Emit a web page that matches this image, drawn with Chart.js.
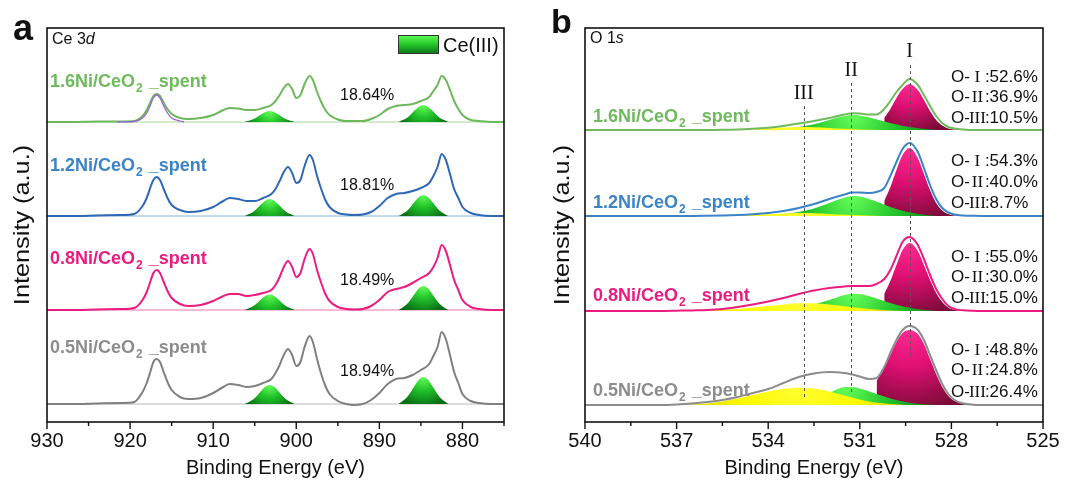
<!DOCTYPE html>
<html>
<head>
<meta charset="utf-8">
<script src="https://cdn.jsdelivr.net/npm/chart.js@4.4.1/dist/chart.umd.min.js"></script>
<style>
  html, body { margin: 0; padding: 0; background: #fff; }
  #wrap { position: relative; width: 1080px; height: 486px; overflow: hidden; }
  canvas { position: absolute; top: 0; }
  #ce { left: 0; }
  #o { left: 540px; }
</style>
</head>
<body>
<div id="wrap">
  <canvas id="ce" width="540" height="486" style="width:540px;height:486px"></canvas>
  <canvas id="o" width="540" height="486" style="width:540px;height:486px"></canvas>
</div>
<script>
// ---------- samples ----------
const samples = ['1.6', '1.2', '0.8', '0.5'];
const sampleColor = ['#6fba5c', '#3b84c7', '#ec1b80', '#8c8c8c'];
const ceLineColor = ['#6cb85a', '#2f68b4', '#ec1b80', '#808080'];

// ---------- Ce 3d spectra (binding energy, eV, and intensity above each trace's baseline) ----------
const ceEnergy = [930, 927, 924, 921, 919.5, 918.5, 918, 917.5, 917.2, 916.8, 916.4, 916, 915.5, 915, 914, 913, 911.5, 910, 909, 908, 907, 906, 905, 904, 903, 902.5, 902, 901.5, 901, 900.5, 900, 899.5, 899, 898.4, 898, 897.5, 897, 896.5, 896, 895, 894, 893, 892, 891, 890, 889, 888, 887, 886, 885, 884, 883.5, 883, 882.5, 882, 881.5, 881, 880.5, 880, 879, 878, 876.5, 875];
const ce16 = [0,0,0.5,0.5,1, 6,12,21,26,28, 26,20,13,8,4, 3,4,7,11,14, 13.5,12,12,14,17, 21,27,34,38,33, 24,27,38,46,42, 30,20,12,7,2.5, 1,1,1,3,7, 13,16,17,18,21, 25,31,37,46,42, 32,21,13,7,2, 1,0,0];
const ce12 = [0,0,0.5,1,2, 10,18,30,36,39, 36,28,18,11,6, 4,5,9,14,18, 17,15,15,18,22, 27,35,44,49,43, 33,36,50,61,56, 40,27,16,9,3, 1.5,1,1.5,4,10, 18,22,23,25,28, 33,40,49,62,56, 42,27,18,9,3, 1,0,0];
const ce08 = [0,0,0.5,1,2, 10,18,30,37,40, 37,29,19,12,6, 4,5,9,13,16, 16,14,15,17,20, 25,33,43,49,43, 33,37,51,61,56, 40,27,16,9,3, 1,0.5,1,4,10, 18,21,23,27,32, 37,43,52,65,59, 45,30,20,10,3, 1,0,0];
const ce05 = [0,0,0.5,1,2, 12,21,34,42,45, 42,33,22,14,7, 5,6,11,16,20, 19,17,18,21,25, 31,39,49,55,49, 38,42,57,68,62, 45,30,18,10,3, 0,-1,0,4,11, 20,25,26,29,34, 40,48,57,72,65, 49,32,21,10,3, 1,0,0];

// Ce(III) components (u' near 903 eV, v' near 885 eV)
const ceIIIuEnergy = [906.2, 905.7, 905.2, 904.7, 904.2, 903.7, 903.2, 902.7, 902.2, 901.7, 901.2, 900.7, 900.2];
const ceIIIvEnergy = [887.7, 887.2, 886.7, 886.2, 885.7, 885.2, 884.7, 884.2, 883.7, 883.2, 882.7, 882.2, 881.7];
const ceIIIu16 = [0,1.2,2.7,5,7.7,10,11,10,7.7,5,2.7,1.2,0];
const ceIIIv16 = [0,1.9,4.1,7.7,11.9,15.6,17,15.6,11.9,7.7,4.1,1.9,0];
const ceIIIu12 = [0,1.9,4.1,7.7,11.9,15.6,17,15.6,11.9,7.7,4.1,1.9,0];
const ceIIIv12 = [0,2.3,5,9.5,14.7,19.2,21,19.2,14.7,9.5,5,2.3,0];
const ceIIIu08 = [0,1.7,3.7,7,10.9,14.2,15.5,14.2,10.9,7,3.7,1.7,0];
const ceIIIv08 = [0,2.6,5.8,10.8,16.8,22,24,22,16.8,10.8,5.8,2.6,0];
const ceIIIu05 = [0,2.1,4.6,8.6,13.3,17.4,19,17.4,13.3,8.6,4.6,2.1,0];
const ceIIIv05 = [0,3,6.5,12.2,18.9,24.7,27,24.7,18.9,12.2,6.5,3,0];

// u''' component of the 1.6Ni trace
const uTripleEnergy = [921.5, 919.5, 918.5, 918, 917.5, 917.2, 916.8, 916.4, 916, 915.5, 915, 914, 913.5];
const uTriple16 = [0,0.5,4,9,18,24,27,24,17,9,4,1,0];

const ceBaseEnergy = [930, 875];
const ceBaseValue = [0, 0];
const ceOffset = [300, 206, 112, 18];
const ce3Share = [18.64, 18.81, 18.49, 18.94];

const ceMajorTicks = [930, 920, 910, 900, 890, 880];
const ceMinorTicks = [925, 915, 905, 895, 885, 875];

// ---------- O 1s spectra ----------
const oEnergy = [540, 537.5, 537, 536.5, 536, 535.5, 535, 534.5, 534, 533.5, 533, 532.5, 532, 531.5, 531.25, 531, 530.7, 530.45, 530.2, 530, 529.8, 529.6, 529.37, 529.1, 528.9, 528.7, 528.5, 528.3, 528.1, 527.9, 527.6, 527.3, 527, 525];
const o16 = [0,0,0,0,0, 0.2,0.6,1.3,2.2,4, 6.5,9,12,15.5,16.7, 16.5,15.5,15.5,21,29, 38,45,51,45,35, 24,14,7,3,1.5, 0.5,0,0,0];
const o12 = [0,0,0,0,0.2, 0.5,1,1.8,3,5, 8,12,17,21.5,23.5, 23.5,23,24,28,40, 54,67,73,64,48, 31,17,8,3.5,1.5, 0.5,0.2,0,0];
const o08 = [0,0,0.3,0.6,1, 2,4,6.5,9.5,13, 17,20.5,23,24.5,25, 25,25,27,32,41, 55,69,74,66,52, 36,22,12,5,2, 0.7,0.2,0,0];
const o05 = [0,0,0.5,1.5,3, 5,8,12,16,22, 28,31.5,33,32,30.5, 28.5,26,27,38,52, 65,75,79,75,65, 50,35,21,11,5, 1.5,0.3,0,0];

// O-I (lattice oxygen)
const oIEnergy = [530.45, 530.2, 530.0, 529.8, 529.6, 529.37, 529.1, 528.9, 528.7, 528.5, 528.3, 528.1, 527.9, 527.6, 527.3];
const oI16 = [null,12,21,32,41,46,40,30,19,10,4.5,1.5,0.5,0,0];
const oI12 = [null,15,29,46,61,68,58,42,26,13,5.6,2,0.6,0,0];
const oI08 = [null,17,30,46,61,68,60,46,31,18,9,3.5,1,0,0];
const oI05 = [24,37,50,63,72,75,71,61,46,31,18,9,4,1,0];
// O-II
const oIIEnergy = [534.5, 534, 533.5, 533, 532.5, 532, 531.5, 531.25, 531, 530.5, 530, 529.5, 529, 528.5];
const oII16 = [0,0.5,1.3,3,5.8,10,14,15,14.5,11,7,3.5,1.5,0];
const oII12 = [0,0.7,1.8,4,7.5,13,18.5,20,19.5,15,9,4.5,1.8,0];
const oII08 = [0,0.6,1.5,3.5,6.5,11,16,17.3,17,13,8,4,1.5,0];
const oII05 = [0,0.5,1.5,3.5,7,12,18,18,16.5,11.5,6.5,3,1,0];
// O-III
const oIIIEnergy = [537, 536.5, 536, 535.5, 535, 534.5, 534, 533.5, 533, 532.5, 532, 531.5, 531, 530.5, 530, 529.5];
const oIII16 = [0,0,0,0.1,0.3,0.8,1.6,2.5,3,2.8,2,1.2,0.6,0.2,0,0];
const oIII12 = [0,0,0,0.1,0.3,0.9,1.7,2.5,3,2.8,2.1,1.3,0.7,0.3,0,0];
const oIII08 = [0,0.2,0.5,1.1,2,3.4,5,6.6,7.8,7.7,6.5,4.8,3,1.5,0.6,0];
const oIII05 = [0,0.5,1.5,3.5,6.5,10,13.5,16,17.3,16.5,13.5,9.5,5.5,2.5,1,0];

const oOffset = [292, 206, 111, 17];
const oShare16 = [52.6, 36.9, 10.5];
const oShare12 = [54.3, 40.0, 8.7];
const oShare08 = [55.0, 30.0, 15.0];
const oShare05 = [48.8, 24.8, 26.4];
const oSpecies = ['I', 'II', 'III'];
const oSpeciesEnergy = [529.37, 531.28, 532.84];

const oMajorTicks = [540, 537, 534, 531, 528, 525];
const oMinorTicks = [538.5, 535.5, 532.5, 529.5, 526.5];

// ---------- helpers ----------
const SANS = '"Liberation Sans", Arial, Helvetica, sans-serif';
const SERIF = '"Liberation Serif", "Times New Roman", serif';

function pts(energy, values, offset) {
  return energy.map((e, i) => ({ x: e, y: values[i] == null ? null : offset + values[i] }));
}

function lineSet(energy, values, offset, color, width, order) {
  return {
    data: pts(energy, values, offset),
    borderColor: color, borderWidth: width,
    pointRadius: 0, fill: false,
    cubicInterpolationMode: 'monotone',
    order: order
  };
}

// radial shading from the apex of a filled component
function peakShade(inner, mid, outer) {
  return (ctx) => {
    const chart = ctx.chart;
    if (!chart.chartArea) return mid;
    const ds = chart.data.datasets[ctx.datasetIndex];
    const xs = chart.scales.x, ys = chart.scales.y;
    let top = null, minX = Infinity, maxX = -Infinity;
    ds.data.forEach(p => {
      if (p.y == null) return;
      if (!top || p.y > top.y) top = p;
      const px = xs.getPixelForValue(p.x);
      minX = Math.min(minX, px); maxX = Math.max(maxX, px);
    });
    const cx = xs.getPixelForValue(top.x), cy = ys.getPixelForValue(top.y);
    const by = ys.getPixelForValue(ds.fill.value);
    const r = Math.max(by - cy, (maxX - minX) / 2, 4) * 1.1;
    const g = chart.ctx.createRadialGradient(cx, cy, 0, cx, cy, r);
    g.addColorStop(0, inner); g.addColorStop(0.45, mid); g.addColorStop(1, outer);
    return g;
  };
}

function fillSet(energy, values, offset, shade, order) {
  return {
    data: pts(energy, values, offset),
    borderColor: 'rgba(0,0,0,0)', borderWidth: 0,
    backgroundColor: shade,
    pointRadius: 0,
    fill: { value: offset },
    cubicInterpolationMode: 'monotone',
    order: order
  };
}

const greenShade = () => peakShade('#66ff5a', '#22c42a', '#0a6e16');
const pinkShade = () => peakShade('#ff2b92', '#e00f72', '#7a0b38');
const yellowShade = () => peakShade('#ffff30', '#fbf800', '#d6cf00');

function seg(c, x1, y1, x2, y2) { c.beginPath(); c.moveTo(x1, y1); c.lineTo(x2, y2); c.stroke(); }

function drawSampleLabel(c, name, x, y, color) {
  c.fillStyle = color; c.textAlign = 'left'; c.textBaseline = 'alphabetic';
  c.font = 'bold 18px ' + SANS;
  const head = name + 'Ni/CeO';
  c.fillText(head, x, y);
  const w1 = c.measureText(head).width;
  c.font = 'bold 12px ' + SANS;
  c.fillText('2', x + w1 + 1, y + 5);
  const w2 = c.measureText('2').width;
  c.font = 'bold 18px ' + SANS;
  c.fillText(' _spent', x + w1 + w2 + 2, y);
}

function frame(opts) {
  return {
    id: 'frame',
    afterDraw(chart) {
      const c = chart.ctx, a = chart.chartArea, xs = chart.scales.x, ys = chart.scales.y;
      c.save();
      c.strokeStyle = '#111'; c.lineWidth = 1.6;
      c.strokeRect(a.left, a.top, a.right - a.left, a.bottom - a.top);
      c.lineWidth = 1.4;
      opts.major.forEach(v => { const x = xs.getPixelForValue(v); seg(c, x, a.bottom, x, a.bottom + 7); });
      opts.minor.forEach(v => { const x = xs.getPixelForValue(v); seg(c, x, a.bottom, x, a.bottom + 4); });
      c.fillStyle = '#111'; c.textAlign = 'center'; c.textBaseline = 'middle';
      c.font = '20px ' + SANS;
      opts.major.forEach(v => c.fillText(String(v), xs.getPixelForValue(v), 441));
      c.fillText('Binding Energy (eV)', (a.left + a.right) / 2, 468);
      c.save();
      c.translate(22.5, (a.top + a.bottom) / 2);
      c.rotate(-Math.PI / 2);
      c.scale(1.15, 1);
      c.font = '22px ' + SANS;
      c.fillText('Intensity (a.u.)', 0, 0);
      c.restore();
      c.textAlign = 'left'; c.textBaseline = 'alphabetic';
      c.font = 'bold ' + opts.letterSize + 'px ' + SANS;
      c.fillText(opts.letter, opts.letterX, opts.letterY);
      opts.extra(chart, c, xs, ys, a);
      c.restore();
    }
  };
}

const baseOptions = (padding, xmin, xmax) => ({
  responsive: false, animation: false, events: [],
  layout: { padding: padding },
  plugins: { legend: { display: false }, tooltip: { enabled: false } },
  scales: {
    x: { type: 'linear', reverse: true, min: xmin, max: xmax, display: false },
    y: { type: 'linear', min: 0, max: 394, display: false }
  }
});

// ---------- Ce 3d panel ----------
const ceTraces = [ce16, ce12, ce08, ce05];
const ceU = [ceIIIu16, ceIIIu12, ceIIIu08, ceIIIu05];
const ceV = [ceIIIv16, ceIIIv12, ceIIIv08, ceIIIv05];
const ceSets = [];
samples.forEach((s, i) => {
  const off = ceOffset[i];
  ceSets.push(lineSet(ceBaseEnergy, ceBaseValue, off, sampleColor[i] + '99', 1, 3));
  ceSets.push(fillSet(ceIIIuEnergy, ceU[i], off, greenShade(), 1));
  ceSets.push(fillSet(ceIIIvEnergy, ceV[i], off, greenShade(), 1));
  ceSets.push(lineSet(ceEnergy, ceTraces[i], off, ceLineColor[i], 2, 0));
});
ceSets.push(lineSet(uTripleEnergy, uTriple16, ceOffset[0], '#9a62d6', 1.3, -1));

const ceLabelY = [87, 171, 264, 353];
const ceShareY = [100, 190, 285, 376];

new Chart(document.getElementById('ce'), {
  type: 'line',
  data: { datasets: ceSets },
  options: baseOptions({ left: 47, right: 36, top: 28, bottom: 64 }, 875, 930),
  plugins: [frame({
    major: ceMajorTicks, minor: ceMinorTicks,
    letter: 'a', letterSize: 36, letterX: 13, letterY: 40,
    extra(chart, c, xs, ys, a) {
      c.fillStyle = '#111';
      c.font = '16px ' + SANS;
      c.fillText('Ce 3', 52, 44);
      const w = c.measureText('Ce 3').width;
      c.font = 'italic 16px ' + SANS;
      c.fillText('d', 52 + w, 44);
      // legend
      const g = c.createLinearGradient(0, 35, 0, 53);
      g.addColorStop(0, '#5cff52'); g.addColorStop(0.5, '#27c92c'); g.addColorStop(1, '#0c7a18');
      c.fillStyle = g; c.fillRect(398, 35, 40, 18);
      c.strokeStyle = '#333'; c.lineWidth = 1; c.strokeRect(398.5, 35.5, 40, 18);
      c.fillStyle = '#111'; c.font = '20px ' + SANS;
      c.fillText('Ce(III)', 443, 52);
      samples.forEach((s, i) => {
        drawSampleLabel(c, s, 50, ceLabelY[i], sampleColor[i]);
        c.fillStyle = '#111'; c.font = '16px ' + SANS;
        c.fillText(ce3Share[i].toFixed(2) + '%', 340, ceShareY[i]);
      });
    }
  })]
});

// ---------- O 1s panel ----------
const oTraces = [o16, o12, o08, o05];
const oI = [oI16, oI12, oI08, oI05];
const oII = [oII16, oII12, oII08, oII05];
const oIII = [oIII16, oIII12, oIII08, oIII05];
const oShares = [oShare16, oShare12, oShare08, oShare05];
const oSets = [];
samples.forEach((s, i) => {
  const off = oOffset[i];
  oSets.push(fillSet(oIEnergy, oI[i], off, pinkShade(), 3));
  oSets.push(fillSet(oIIEnergy, oII[i], off, greenShade(), 2));
  oSets.push(fillSet(oIIIEnergy, oIII[i], off, yellowShade(), 1));
  oSets.push(lineSet(oEnergy, oTraces[i], off, sampleColor[i], 2, 0));
});

const oLabelY = [122, 208, 301, 396];
const oShareY = [[82, 102, 123], [166, 187, 208], [262, 282, 303], [355, 375, 397]];
const oSpeciesY = [57, 76, 99];
const oGuideTop = [65, 83, 106];
const oGuideBottom = [357, 392, 397];

new Chart(document.getElementById('o'), {
  type: 'line',
  data: { datasets: oSets },
  options: baseOptions({ left: 45, right: 37, top: 28, bottom: 64 }, 525, 540),
  plugins: [frame({
    major: oMajorTicks, minor: oMinorTicks,
    letter: 'b', letterSize: 34, letterX: 11, letterY: 33,
    extra(chart, c, xs, ys, a) {
      c.fillStyle = '#111';
      c.font = '16px ' + SANS;
      c.fillText('O 1', 50, 43);
      const w = c.measureText('O 1').width;
      c.font = 'italic 16px ' + SANS;
      c.fillText('s', 50 + w, 43);
      // guide lines at the O species positions
      c.strokeStyle = '#555'; c.lineWidth = 1; c.setLineDash([3, 3]);
      oSpeciesEnergy.forEach((e, k) => {
        const x = Math.round(xs.getPixelForValue(e)) + 0.5;
        seg(c, x, oGuideTop[k], x, oGuideBottom[k]);
      });
      c.setLineDash([]);
      c.textAlign = 'center'; c.font = '20px ' + SERIF;
      oSpeciesEnergy.forEach((e, k) => c.fillText(oSpecies[k], xs.getPixelForValue(e), oSpeciesY[k]));
      c.textAlign = 'left';
      samples.forEach((s, i) => {
        drawSampleLabel(c, s, 53, oLabelY[i], sampleColor[i]);
        oShares[i].forEach((v, k) => {
          const y = oShareY[i][k];
          c.fillStyle = '#111';
          c.font = '17px ' + SANS;
          c.fillText('O-', 411, y);
          const w1 = c.measureText('O-').width;
          c.font = '17px ' + SERIF;
          c.textAlign = 'center';
          c.fillText(oSpecies[k], 411 + w1 + 7.5, y);
          c.textAlign = 'left';
          c.font = '17px ' + SANS;
          c.fillText(':' + v.toFixed(1) + '%', 411 + w1 + 15, y);
        });
      });
    }
  })]
});
</script>
</body>
</html>
